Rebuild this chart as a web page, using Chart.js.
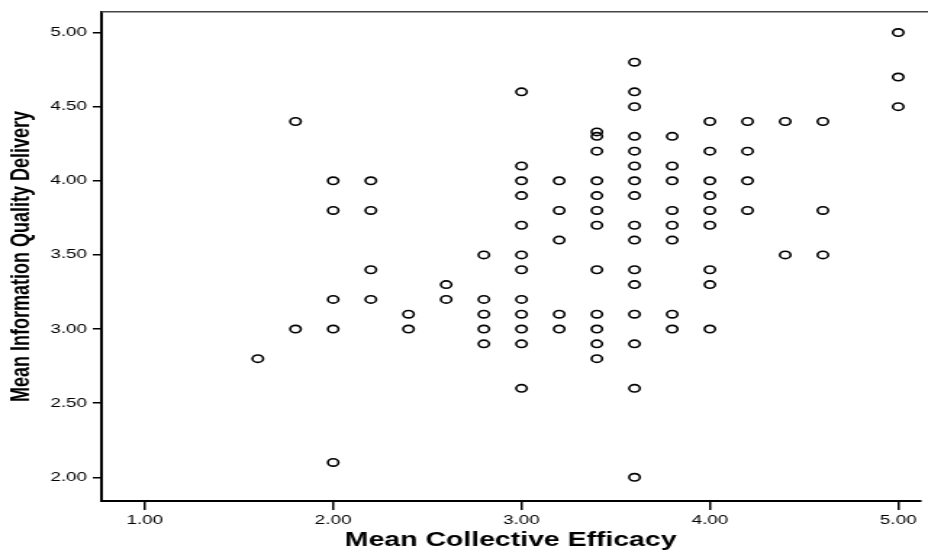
<!DOCTYPE html>
<html>
<head>
<meta charset="utf-8">
<script src="https://cdn.jsdelivr.net/npm/chart.js@4.4.0/dist/chart.umd.min.js"></script>
<style>
  html, body { margin: 0; padding: 0; background: #fff; overflow: hidden; }
  /* the original plot is stretched sideways (ovals, wide lettering) */
  #wrap { width: 640px; height: 553px; transform: scaleX(1.45); transform-origin: 0 0; }
  #c { display: block; }
</style>
</head>
<body>
<div id="wrap"><canvas id="c" width="640" height="553"></canvas></div>
<script>
// x levels and the y values seen at each level
const efficacy = [1.6, 1.8, 2.0, 2.2, 2.4, 2.6, 2.8, 3.0, 3.2, 3.4, 3.6, 3.8, 4.0, 4.2, 4.4, 4.6, 5.0]
const quality = [
  [2.8],
  [4.4, 3.0],
  [4.0, 3.8, 3.2, 3.0, 2.1],
  [4.0, 3.8, 3.4, 3.2],
  [3.1, 3.0],
  [3.3, 3.2],
  [3.5, 3.2, 3.1, 3.0, 2.9],
  [4.6, 4.1, 4.0, 3.9, 3.7, 3.5, 3.4, 3.2, 3.1, 3.0, 2.9, 2.6],
  [4.0, 3.8, 3.6, 3.1, 3.0],
  [4.33, 4.3, 4.2, 4.0, 3.9, 3.8, 3.7, 3.4, 3.1, 3.0, 2.9, 2.8],
  [4.8, 4.6, 4.5, 4.3, 4.2, 4.1, 4.0, 3.9, 3.7, 3.6, 3.4, 3.3, 3.1, 2.9, 2.6, 2.0],
  [4.3, 4.1, 4.0, 3.8, 3.7, 3.6, 3.1, 3.0],
  [4.4, 4.2, 4.0, 3.9, 3.8, 3.7, 3.4, 3.3, 3.0],
  [4.4, 4.2, 4.0, 3.8],
  [4.4, 3.5],
  [4.4, 3.8, 3.5],
  [5.0, 4.7, 4.5]
]
const xTicks = [1, 2, 3, 4, 5]
const yTicks = [2, 2.5, 3, 3.5, 4, 4.5, 5]

const points = []
efficacy.forEach((x, i) => {
  quality[i].forEach((y) => points.push({x: x, y: y}))
})

const tickFont = {family: "'Liberation Sans', Arial, sans-serif", size: 13}

const topLine = {
  id: 'topLine',
  afterDraw(chart) {
    const {ctx, chartArea} = chart
    ctx.save()
    ctx.strokeStyle = '#444'
    ctx.lineWidth = 1.5
    ctx.beginPath()
    ctx.moveTo(chartArea.left, chartArea.top)
    ctx.lineTo(chart.width, chartArea.top)
    ctx.stroke()
    ctx.restore()
  }
}

new Chart(document.getElementById('c').getContext('2d'), {
  type: 'scatter',
  data: {
    datasets: [{
      data: points,
      pointStyle: 'circle',
      pointRadius: 3.7,
      pointBorderWidth: 1.6,
      pointBorderColor: '#000',
      pointBackgroundColor: 'rgba(0,0,0,0)'
    }]
  },
  options: {
    responsive: false,
    animation: false,
    devicePixelRatio: 1,
    layout: {padding: {top: 4, left: 0, right: 0, bottom: 0}},
    plugins: {legend: {display: false}, tooltip: {enabled: false}},
    scales: {
      x: {
        type: 'linear',
        min: 0.77,
        max: 5.115,
        afterFit: (s) => { s.height = 52 },
        afterBuildTicks: (s) => { s.ticks = xTicks.map((v) => ({value: v})) },
        ticks: {
          color: '#000',
          font: tickFont,
          padding: 3,
          maxRotation: 0,
          callback: (v) => Number(v).toFixed(2)
        },
        grid: {drawOnChartArea: false, tickLength: 9, color: '#000', lineWidth: 1.5},
        border: {display: true, color: '#000', width: 2},
        title: {
          display: true,
          text: 'Mean Collective Efficacy',
          color: '#000',
          font: {family: "'Liberation Sans', Arial, sans-serif", size: 19.6, weight: 'bold'},
          padding: {top: 0, bottom: 1}
        }
      },
      y: {
        type: 'linear',
        min: 1.84,
        max: 5.14,
        afterFit: (s) => { s.width = 70 },
        afterBuildTicks: (s) => { s.ticks = yTicks.map((v) => ({value: v})) },
        ticks: {
          color: '#000',
          font: tickFont,
          padding: 4,
          callback: (v) => Number(v).toFixed(2)
        },
        grid: {drawOnChartArea: false, tickLength: 6, color: '#000', lineWidth: 1.5},
        border: {display: true, color: '#000', width: 2},
        title: {
          display: true,
          text: 'Mean Information Quality Delivery',
          color: '#000',
          font: {family: "'Liberation Sans', Arial, sans-serif", size: 18, weight: 'bold'},
          padding: {top: 4, bottom: 0}
        }
      }
    }
  },
  plugins: [topLine]
})
</script>
</body>
</html>
